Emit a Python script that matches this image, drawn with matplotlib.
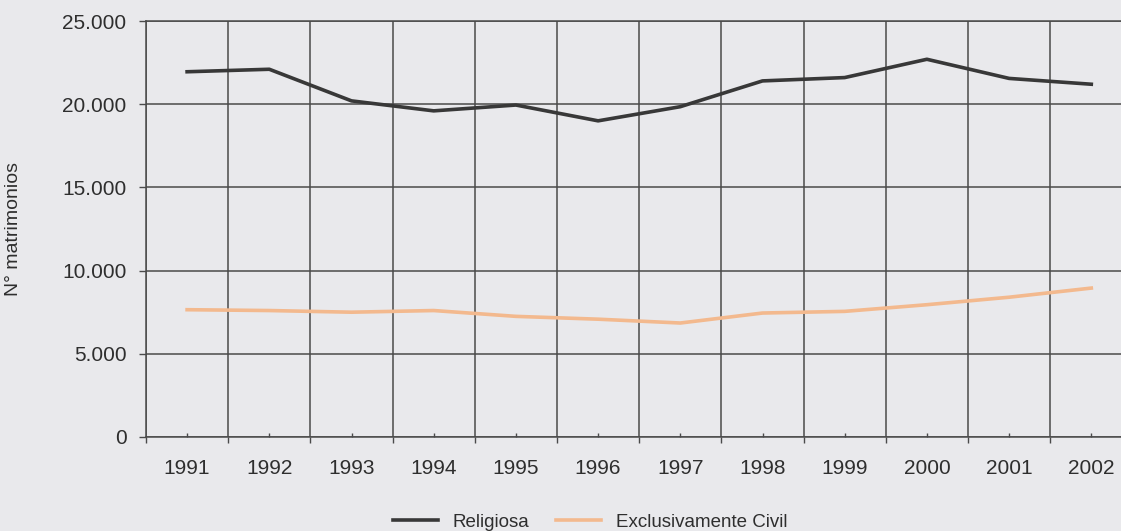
"""Matrimonios por tipo de celebración, 1991-2002."""

import matplotlib
matplotlib.use('Agg')
import matplotlib.pyplot as plt
from matplotlib.ticker import FixedLocator, FuncFormatter, NullFormatter

plt.rcParams['font.family'] = ['Liberation Sans', 'DejaVu Sans']

# Datos
anios = ['1991', '1992', '1993', '1994', '1995', '1996',
         '1997', '1998', '1999', '2000', '2001', '2002']
religiosa = [21950, 22100, 20200, 19600, 19950, 19000,
             19850, 21400, 21600, 22700, 21550, 21200]
civil = [7650, 7600, 7500, 7600, 7250, 7080,
         6850, 7450, 7550, 7950, 8400, 8950]
y_ticks = [0, 5000, 10000, 15000, 20000, 25000]

FONDO = '#e9e9ec'
REJILLA = '#4a4a4a'
TEXTO = '#2e2e2e'

fig = plt.figure(figsize=(11.21, 5.31), dpi=100, facecolor=FONDO)
# el eje sigue más allá del borde derecho (la imagen está recortada)
ax = fig.add_axes([146 / 1121, 94 / 531, 975 / 1121, 416 / 531])
ax.set_facecolor(FONDO)

x = [i + 0.5 for i in range(len(anios))]
ax.plot(x, religiosa, color='#383838', lw=2.6, label='Religiosa',
        solid_joinstyle='round', zorder=3)
ax.plot(x, civil, color='#f3b98e', lw=2.6, label='Exclusivamente Civil',
        solid_joinstyle='round', zorder=3)

ax.set_xlim(0, 975 / 82.2)
ax.set_ylim(0, 25000)

# rejilla vertical en los límites de cada año, etiquetas en el centro
ax.xaxis.set_major_locator(FixedLocator(range(len(anios))))
ax.xaxis.set_major_formatter(NullFormatter())
ax.xaxis.set_minor_locator(FixedLocator(x))
ax.xaxis.set_minor_formatter(FuncFormatter(lambda v, p: anios[int(v)]))
ax.tick_params(axis='x', which='major', direction='out', length=4,
               color=REJILLA, width=1)
ax.tick_params(axis='x', which='minor', direction='in', length=3,
               color=REJILLA, width=1, pad=16, labelsize=15,
               labelcolor=TEXTO)

ax.yaxis.set_major_locator(FixedLocator(y_ticks))
ax.yaxis.set_major_formatter(
    FuncFormatter(lambda v, p: f'{v:,.0f}'.replace(',', '.')))
ax.tick_params(axis='y', direction='out', length=5, width=1,
               color=REJILLA, pad=9, labelsize=15, labelcolor=TEXTO)

ax.grid(True, which='major', color=REJILLA, lw=1.1)
ax.set_axisbelow(True)

ax.spines['right'].set_visible(False)
for lado in ['left', 'bottom', 'top']:
    ax.spines[lado].set_color(REJILLA)
    ax.spines[lado].set_linewidth(1.1)

ax.set_ylabel('N° matrimonios', fontsize=14, color=TEXTO)
ax.yaxis.set_label_coords(-124 / 975, 0.5)

fig.legend(loc='center', bbox_to_anchor=(590 / 1121, 1 - 522 / 531),
           ncol=2, frameon=False, fontsize=13.5, handlelength=2.4,
           handletextpad=0.8, columnspacing=1.4, labelcolor=TEXTO)

fig.savefig('out.png', dpi=100, facecolor=FONDO)
